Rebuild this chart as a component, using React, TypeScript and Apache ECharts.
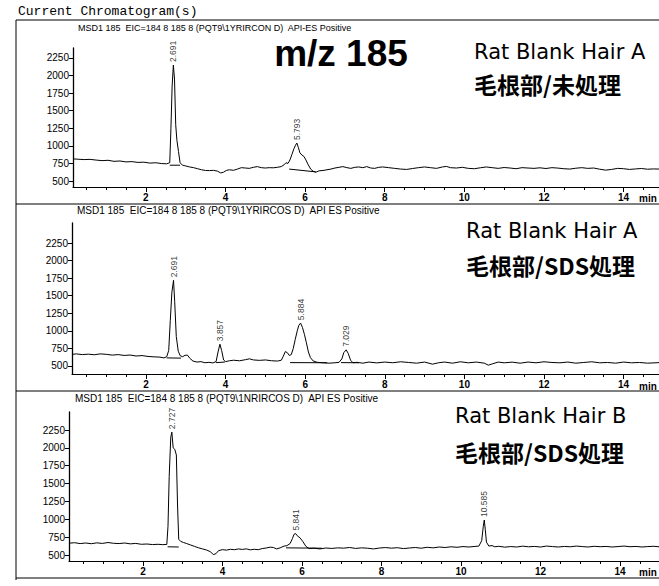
import React, { useEffect, useRef } from "react";
import * as echarts from "echarts";

// Retention-time tick labels (min) and intensity tick labels
const xLabelTicks = [2, 4, 6, 8, 10, 12, 14];
const xMinorTicks = [0.5, 1, 1.5, 2, 2.5, 3, 3.5, 4, 4.5, 5, 5.5, 6, 6.5, 7, 7.5, 8, 8.5, 9, 9.5, 10, 10.5, 11, 11.5, 12, 12.5, 13, 13.5, 14, 14.5];
const yLabelTicks = [500, 750, 1000, 1250, 1500, 1750, 2000, 2250];

// Trace 1: Rat Blank Hair A, root part, untreated
const traceA1: number[][] = [
  [0.17, 815], [0.3, 810], [0.45, 805], [0.6, 808], [0.75, 798], [0.9, 790], [1.05, 795], [1.2, 780], [1.35, 785], [1.5, 772],
  [1.65, 776], [1.8, 765], [1.95, 768], [2.1, 755], [2.25, 760], [2.4, 748], [2.52, 745], [2.6, 760], [2.63, 1250], [2.66, 1850],
  [2.691, 2150], [2.72, 1950], [2.75, 1300], [2.78, 1080], [2.82, 920], [2.86, 760], [2.92, 725], [3.0, 715], [3.1, 700], [3.2, 690],
  [3.3, 675], [3.4, 660], [3.5, 650], [3.6, 648], [3.7, 652], [3.8, 640], [3.88, 615], [3.95, 625], [4.02, 650], [4.1, 660],
  [4.2, 652], [4.3, 670], [4.4, 690], [4.5, 685], [4.6, 680], [4.7, 695], [4.8, 705], [4.9, 690], [5.0, 685], [5.1, 690],
  [5.2, 688], [5.3, 695], [5.4, 705], [5.47, 730], [5.52, 760], [5.57, 750], [5.62, 800], [5.67, 880], [5.72, 960], [5.76, 1010],
  [5.793, 1040], [5.83, 980], [5.87, 900], [5.92, 870], [5.97, 850], [6.02, 800], [6.08, 730], [6.14, 670], [6.2, 640], [6.27, 625],
  [6.35, 645], [6.45, 650], [6.55, 660], [6.65, 670], [6.75, 685], [6.85, 695], [6.95, 705], [7.05, 690], [7.15, 680], [7.25, 695],
  [7.35, 700], [7.45, 690], [7.55, 705], [7.65, 685], [7.75, 680], [7.85, 695], [7.95, 700], [8.1, 690], [8.25, 680], [8.4, 670],
  [8.55, 665], [8.7, 678], [8.85, 690], [9.0, 700], [9.15, 690], [9.3, 680], [9.45, 700], [9.55, 708], [9.65, 690], [9.8, 685],
  [9.95, 695], [10.1, 680], [10.25, 675], [10.4, 688], [10.55, 700], [10.7, 690], [10.85, 680], [11.0, 692], [11.15, 685], [11.3, 675],
  [11.45, 690], [11.6, 685], [11.75, 680], [11.9, 688], [12.05, 678], [12.2, 690], [12.35, 684], [12.5, 675], [12.65, 670], [12.8, 682],
  [12.95, 690], [13.1, 680], [13.25, 685], [13.4, 668], [13.55, 655], [13.7, 665], [13.85, 680], [14.0, 675], [14.15, 665], [14.3, 672],
  [14.45, 678], [14.6, 668], [14.75, 672], [14.89, 670],
];
const peaksA1 = [2.691, 5.793];
const baselinesA1: number[][][] = [
  [[2.6, 725], [2.86, 725]],
  [[5.6, 670], [6.27, 630]],
];

// Trace 2: Rat Blank Hair A, root part, SDS treated
const traceA2: number[][] = [
  [0.14, 665], [0.25, 672], [0.4, 662], [0.55, 668], [0.7, 660], [0.85, 672], [1.0, 666], [1.15, 655], [1.3, 662], [1.45, 650],
  [1.6, 656], [1.75, 642], [1.9, 648], [2.05, 636], [2.2, 630], [2.35, 626], [2.45, 615], [2.52, 632], [2.57, 720], [2.61, 1150],
  [2.65, 1550], [2.691, 1720], [2.72, 1420], [2.76, 920], [2.81, 710], [2.86, 645], [2.92, 632], [2.98, 652], [3.04, 655], [3.1, 610],
  [3.18, 570], [3.28, 556], [3.38, 562], [3.48, 546], [3.58, 552], [3.68, 544], [3.76, 562], [3.81, 700], [3.857, 810], [3.9, 720],
  [3.95, 585], [4.0, 562], [4.1, 575], [4.2, 582], [4.35, 574], [4.5, 590], [4.6, 602], [4.7, 586], [4.85, 580], [5.0, 586],
  [5.15, 575], [5.3, 570], [5.4, 582], [5.45, 640], [5.5, 705], [5.55, 690], [5.6, 650], [5.65, 662], [5.7, 750], [5.75, 880],
  [5.8, 1000], [5.84, 1080], [5.884, 1110], [5.93, 1050], [5.98, 950], [6.03, 830], [6.08, 700], [6.13, 620], [6.2, 572], [6.3, 552],
  [6.45, 546], [6.6, 540], [6.75, 546], [6.85, 552], [6.92, 600], [6.97, 690], [7.029, 730], [7.08, 680], [7.14, 582], [7.2, 546],
  [7.3, 552], [7.45, 540], [7.6, 556], [7.8, 544], [8.0, 556], [8.2, 546], [8.4, 560], [8.6, 550], [8.8, 540], [9.0, 556],
  [9.2, 526], [9.35, 546], [9.5, 556], [9.7, 540], [9.9, 560], [10.1, 545], [10.3, 556], [10.5, 540], [10.6, 512], [10.7, 530],
  [10.85, 556], [11.0, 545], [11.2, 555], [11.4, 540], [11.6, 556], [11.8, 545], [12.0, 560], [12.2, 550], [12.4, 545], [12.6, 556],
  [12.8, 540], [13.0, 550], [13.2, 560], [13.4, 545], [13.6, 550], [13.8, 540], [14.0, 556], [14.2, 545], [14.4, 550], [14.6, 540],
  [14.89, 548],
];
const peaksA2 = [2.691, 3.857, 5.884, 7.029];
const baselinesA2: number[][][] = [
  [[2.52, 615], [2.88, 612]],
  [[3.76, 548], [3.98, 556]],
  [[5.62, 548], [6.55, 546]],
  [[6.9, 548], [7.35, 546]],
];

// Trace 3: Rat Blank Hair B, root part, SDS treated
const traceB: number[][] = [
  [0.14, 665], [0.28, 672], [0.42, 660], [0.56, 668], [0.7, 658], [0.84, 670], [0.98, 662], [1.12, 675], [1.26, 664], [1.4, 660],
  [1.54, 668], [1.68, 656], [1.82, 662], [1.96, 650], [2.1, 654], [2.24, 646], [2.38, 650], [2.5, 645], [2.6, 648], [2.63, 900],
  [2.66, 1600], [2.7, 2150], [2.727, 2220], [2.76, 2000], [2.8, 1980], [2.84, 1900], [2.87, 1200], [2.9, 720], [2.95, 690], [3.02, 675],
  [3.1, 660], [3.2, 640], [3.3, 620], [3.4, 600], [3.5, 585], [3.6, 570], [3.7, 545], [3.77, 505], [3.84, 520], [3.9, 560],
  [4.0, 575], [4.1, 568], [4.2, 580], [4.3, 574], [4.4, 585], [4.5, 578], [4.6, 586], [4.7, 572], [4.8, 580], [4.9, 574],
  [5.0, 590], [5.1, 598], [5.2, 610], [5.28, 605], [5.36, 585], [5.45, 600], [5.55, 625], [5.62, 630], [5.7, 660], [5.76, 730],
  [5.8, 790], [5.841, 800], [5.88, 770], [5.95, 740], [6.02, 690], [6.1, 620], [6.18, 590], [6.3, 595], [6.45, 585], [6.6, 598],
  [6.75, 592], [6.9, 600], [7.05, 596], [7.2, 605], [7.35, 592], [7.5, 600], [7.65, 595], [7.8, 585], [7.95, 598], [8.1, 604],
  [8.25, 596], [8.4, 602], [8.55, 590], [8.7, 598], [8.85, 605], [9.0, 595], [9.15, 608], [9.3, 600], [9.45, 612], [9.6, 605],
  [9.75, 615], [9.9, 608], [10.05, 618], [10.2, 612], [10.35, 620], [10.45, 625], [10.52, 700], [10.56, 900], [10.585, 990], [10.61, 860],
  [10.64, 680], [10.7, 625], [10.78, 632], [10.85, 615], [10.95, 622], [11.1, 610], [11.25, 618], [11.4, 612], [11.55, 624], [11.7, 615],
  [11.85, 620], [12.0, 612], [12.15, 625], [12.3, 618], [12.45, 612], [12.6, 620], [12.75, 615], [12.9, 625], [13.05, 618], [13.2, 612],
  [13.35, 622], [13.5, 616], [13.65, 620], [13.8, 612], [13.95, 618], [14.1, 625], [14.25, 616], [14.4, 620], [14.55, 612], [14.7, 618],
  [14.85, 622], [14.98, 615],
];
const peaksB = [2.727, 5.841, 10.585];
const baselinesB: number[][][] = [
  [[2.62, 615], [2.9, 612]],
  [[5.6, 600], [6.5, 595]],
];

const headers = [
  "MSD1 185  EIC=184 8 185 8 (PQT9\\1YRIRCON D)  API-ES Positive",
  "MSD1 185  EIC=184 8 185 8 (PQT9\\1YRIRCOS D)  API ES Positive",
  "MSD1 185  EIC=184 8 185 8 (PQT9\\1NRIRCOS D)  API ES Positive",
];
const sampleNames = ["Rat Blank Hair A", "Rat Blank Hair A", "Rat Blank Hair B"];
const treatments = ["毛根部/未処理", "毛根部/SDS処理", "毛根部/SDS処理"];

// Panel geometry (pixels) and axis ranges
const panels = [
  { trace: traceA1, peaks: peaksA1, baselines: baselinesA1, left: 73, top: 48, height: 139, xMin: 0.17, xMax: 14.89, yMin: 415, yMax: 2392 },
  { trace: traceA2, peaks: peaksA2, baselines: baselinesA2, left: 72, top: 223, height: 151, xMin: 0.14, xMax: 14.89, yMin: 386, yMax: 2535 },
  { trace: traceB, peaks: peaksB, baselines: baselinesB, left: 69, top: 412, height: 149, xMin: 0.14, xMax: 14.98, yMin: 416, yMax: 2502 },
];

const BLACK = "#000";
const SANS = "'Liberation Sans', Arial, sans-serif";

function peakPoint(trace: number[][], rt: number): number[] {
  const p = trace.find((d) => Math.abs(d[0] - rt) < 1e-9);
  return p ? [p[0], p[1]] : [rt, 0];
}

export default function App() {
  const ref = useRef<HTMLDivElement>(null);

  useEffect(() => {
    if (!ref.current) return;
    const chart = echarts.init(ref.current, undefined, { renderer: "svg" });

    const grid: any[] = [];
    const xAxis: any[] = [];
    const yAxis: any[] = [];
    const series: any[] = [];

    panels.forEach((p, i) => {
      grid.push({ left: p.left, right: 0, top: p.top, height: p.height });
      // axis line with half-minute ticks
      xAxis.push({
        type: "value", gridIndex: i, min: p.xMin, max: p.xMax, position: "bottom",
        axisLine: { show: true, onZero: false, lineStyle: { color: BLACK, width: 1 } },
        axisTick: { show: true, customValues: xMinorTicks, length: 3, lineStyle: { color: BLACK } },
        axisLabel: { show: false },
        splitLine: { show: false },
      });
      // labelled major ticks
      xAxis.push({
        type: "value", gridIndex: i, min: p.xMin, max: p.xMax, position: "bottom",
        axisLine: { show: false, onZero: false },
        axisTick: { show: true, customValues: xLabelTicks, length: 5, lineStyle: { color: BLACK } },
        axisLabel: {
          show: true, customValues: xLabelTicks, color: BLACK, fontSize: 10, fontWeight: "bold",
          fontFamily: SANS, margin: 5,
        },
        splitLine: { show: false },
      });
      yAxis.push({
        type: "value", gridIndex: i, min: p.yMin, max: p.yMax,
        axisLine: { show: true, lineStyle: { color: BLACK, width: 1.3 } },
        axisTick: { show: true, customValues: yLabelTicks, length: 4, lineStyle: { color: BLACK } },
        axisLabel: {
          show: true, customValues: yLabelTicks, color: BLACK, fontSize: 10, fontFamily: SANS, margin: 4,
          formatter: (v: number) => String(Math.round(v)),
        },
        splitLine: { show: false },
      });

      series.push({
        type: "line", xAxisIndex: i * 2, yAxisIndex: i, data: p.trace,
        showSymbol: false, symbol: "none", lineStyle: { color: BLACK, width: 1 },
        silent: true,
      });
      p.baselines.forEach((b) => {
        series.push({
          type: "line", xAxisIndex: i * 2, yAxisIndex: i, data: b,
          showSymbol: false, symbol: "none", lineStyle: { color: BLACK, width: 1 }, silent: true,
        });
      });
      series.push({
        type: "scatter", xAxisIndex: i * 2, yAxisIndex: i,
        data: p.peaks.map((rt) => peakPoint(p.trace, rt)),
        symbolSize: 0, silent: true, itemStyle: { color: BLACK },
        label: {
          show: true, position: "top", distance: 3, rotate: 90, align: "left", verticalAlign: "middle",
          fontSize: 8.5, fontFamily: SANS, color: BLACK, textBorderWidth: 0,
          formatter: (d: any) => d.value[0].toFixed(3),
        },
      });
    });

    const txt = (text: string, x: number, y: number, size: number, opts: any = {}) => ({
      type: "text", x, y, silent: true,
      style: {
        text, fill: BLACK, fontSize: size, fontFamily: opts.family || SANS, fontWeight: opts.weight || "normal",
        align: opts.align || "left", verticalAlign: "middle",
        textAlign: opts.align || "left", textVerticalAlign: "middle",
      },
    });
    const line = (x1: number, y1: number, x2: number, y2: number) => ({
      type: "line", silent: true, shape: { x1, y1, x2, y2 }, style: { stroke: BLACK, lineWidth: 1 },
    });

    const graphic: any[] = [
      line(16, 20, 659, 20),
      line(16, 20, 16, 580),
      line(16, 204, 659, 204),
      line(16, 391, 659, 391),
      line(16, 578, 659, 578),
      txt("Current Chromatogram(s)", 18, 11, 13, { family: "'Liberation Mono', monospace" }),
      txt(headers[0], 78, 28, 9),
      txt(headers[1], 77, 210, 10),
      txt(headers[2], 75, 398, 10),
      txt("m/z 185", 341, 53, 37, { weight: "bold", align: "center" }),
      txt(sampleNames[0], 474, 52, 21, { family: "'DejaVu Sans', sans-serif" }),
      txt(treatments[0], 474, 84, 23, { family: "'Noto Sans CJK JP', sans-serif", weight: "bold" }),
      txt(sampleNames[1], 466, 231, 21, { family: "'DejaVu Sans', sans-serif" }),
      txt(treatments[1], 466, 265, 23, { family: "'Noto Sans CJK JP', sans-serif", weight: "bold" }),
      txt(sampleNames[2], 455, 416, 21, { family: "'DejaVu Sans', sans-serif" }),
      txt(treatments[2], 455, 452, 23, { family: "'Noto Sans CJK JP', sans-serif", weight: "bold" }),
      txt("min", 639, 198, 10, { weight: "bold" }),
      txt("min", 639, 386, 10, { weight: "bold" }),
      txt("min", 639, 572, 10, { weight: "bold" }),
    ];

    chart.setOption({
      animation: false,
      backgroundColor: "#fff",
      grid, xAxis, yAxis, series, graphic,
    });

    return () => chart.dispose();
  }, []);

  return (
    <div
      ref={ref}
      style={{ position: "absolute", left: 0, top: 0, width: 659, height: 586, background: "#fff" }}
    />
  );
}
